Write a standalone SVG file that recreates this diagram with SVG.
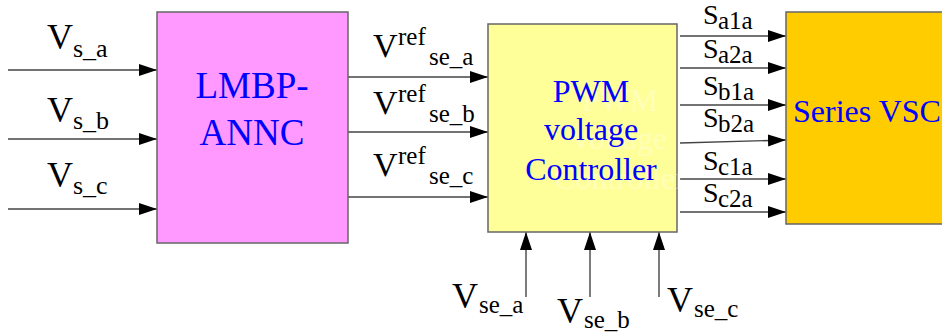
<svg xmlns="http://www.w3.org/2000/svg" width="942" height="333" viewBox="0 0 942 333">
<style>
text{font-family:"Liberation Serif","Tinos","Times New Roman","DejaVu Serif",serif}
.lbl{fill:#000}
.blue{fill:#0000FF;text-anchor:middle}
.ghost{fill:#fff;opacity:0.3;text-anchor:middle;font-size:32px}
.box{stroke:#666;stroke-width:1.5}
.wire{stroke:#444;stroke-width:1.4;fill:none;marker-end:url(#ah)}
</style>
<defs>
<marker id="ah" markerUnits="userSpaceOnUse" markerWidth="19" markerHeight="13" refX="18" refY="6" orient="auto">
<path d="M0,0 L18,6 L0,12 Z" fill="#000"/>
</marker>
</defs>
<rect width="942" height="333" fill="#fff"/>
<g id="connectors">
<line class="wire" x1="8" y1="70" x2="157" y2="70"/>
<line class="wire" x1="8" y1="139" x2="157" y2="139"/>
<line class="wire" x1="8" y1="209" x2="157" y2="209"/>
<line class="wire" x1="348" y1="77" x2="488" y2="77"/>
<line class="wire" x1="348" y1="132" x2="488" y2="132"/>
<line class="wire" x1="348" y1="197" x2="488" y2="197"/>
<line class="wire" x1="680" y1="36" x2="786" y2="36"/>
<line class="wire" x1="680" y1="68" x2="786" y2="68"/>
<line class="wire" x1="680" y1="105" x2="786" y2="105"/>
<line class="wire" x1="680" y1="143" x2="786" y2="140"/>
<line class="wire" x1="680" y1="179" x2="786" y2="179"/>
<line class="wire" x1="680" y1="212" x2="786" y2="212"/>
<line class="wire" x1="526" y1="297" x2="526" y2="232"/>
<line class="wire" x1="590" y1="297" x2="590" y2="232"/>
<line class="wire" x1="659" y1="297" x2="659" y2="232"/>
</g>
<g id="labels">
<text class="lbl"><tspan x="47" y="49" font-size="36">V</tspan><tspan x="73" y="57" font-size="26">s_a</tspan></text>
<text class="lbl"><tspan x="47" y="122" font-size="36">V</tspan><tspan x="73" y="129" font-size="26">s_b</tspan></text>
<text class="lbl"><tspan x="47" y="187" font-size="36">V</tspan><tspan x="73" y="194" font-size="26">s_c</tspan></text>
<text class="lbl"><tspan x="373" y="57" font-size="34">V</tspan><tspan x="398" y="45" font-size="25">ref</tspan><tspan x="429" y="65" font-size="25">se_a</tspan></text>
<text class="lbl"><tspan x="373" y="114" font-size="34">V</tspan><tspan x="398" y="102" font-size="25">ref</tspan><tspan x="429" y="122" font-size="25">se_b</tspan></text>
<text class="lbl"><tspan x="373" y="176" font-size="34">V</tspan><tspan x="398" y="164" font-size="25">ref</tspan><tspan x="429" y="184" font-size="25">se_c</tspan></text>
<text class="lbl"><tspan x="703" y="24" font-size="28">S</tspan><tspan x="718" y="29" font-size="25">a1a</tspan></text>
<text class="lbl"><tspan x="703" y="58" font-size="28">S</tspan><tspan x="718" y="63" font-size="25">a2a</tspan></text>
<text class="lbl"><tspan x="703" y="95" font-size="28">S</tspan><tspan x="718" y="100" font-size="25">b1a</tspan></text>
<text class="lbl"><tspan x="703" y="127" font-size="28">S</tspan><tspan x="718" y="132" font-size="25">b2a</tspan></text>
<text class="lbl"><tspan x="703" y="170" font-size="28">S</tspan><tspan x="718" y="175" font-size="25">c1a</tspan></text>
<text class="lbl"><tspan x="703" y="202" font-size="28">S</tspan><tspan x="718" y="207" font-size="25">c2a</tspan></text>
<text class="lbl"><tspan x="452" y="308" font-size="36">V</tspan><tspan x="479" y="313" font-size="25">se_a</tspan></text>
<text class="lbl"><tspan x="557" y="323" font-size="36">V</tspan><tspan x="584" y="328" font-size="25">se_b</tspan></text>
<text class="lbl"><tspan x="667" y="312" font-size="36">V</tspan><tspan x="694" y="317" font-size="25">se_c</tspan></text>
</g>
<g id="lmbp-annc">
<rect class="box" x="157" y="12" width="191" height="231" fill="#FF99FF"/>
<text class="blue" font-size="37"><tspan x="252" y="98">LMBP-</tspan><tspan x="252" y="145">ANNC</tspan></text>
</g>
<g id="pwm-controller">
<rect class="box" x="488" y="24" width="189" height="208" fill="#FFFF99"/>
<text class="ghost"><tspan x="620" y="111">PWM</tspan><tspan x="620" y="149">voltage</tspan><tspan x="620" y="189">Controller</tspan></text>
<text class="blue" font-size="32"><tspan x="591" y="102">PWM</tspan><tspan x="591" y="140">voltage</tspan><tspan x="591" y="180">Controller</tspan></text>
</g>
<g id="series-vsc">
<rect class="box" x="786" y="12" width="170" height="212" fill="#FFCC00"/>
<text class="blue" font-size="32" style="text-anchor:start" x="793" y="122">Series VSC</text>
</g>
</svg>
